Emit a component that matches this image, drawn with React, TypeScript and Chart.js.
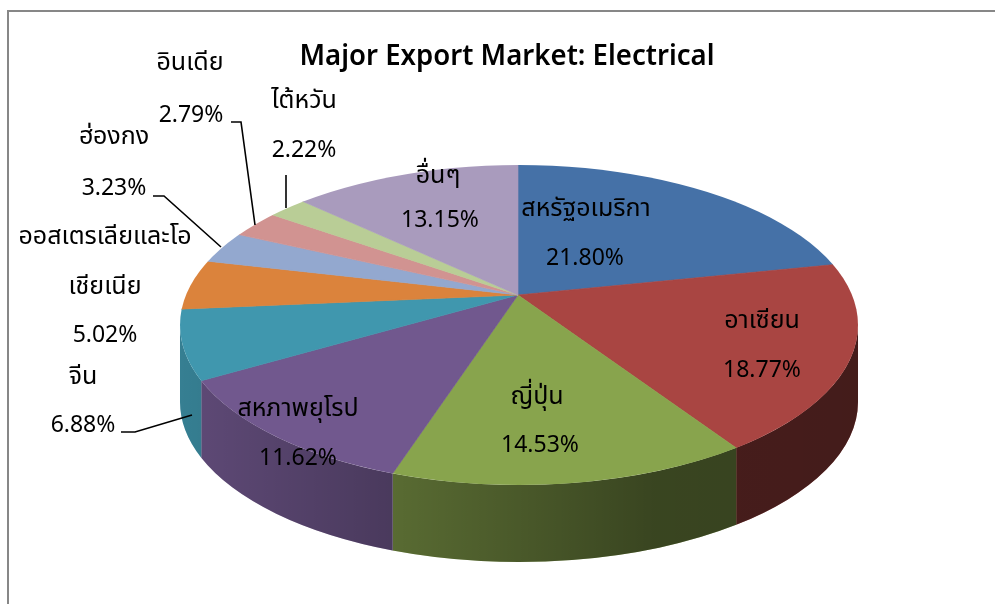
import React, { useEffect, useRef } from 'react';
import { Chart, registerables } from 'chart.js';

Chart.register(...registerables);

// ---------- data ----------
const categories = [
  'สหรัฐอเมริกา',
  'อาเซียน',
  'ญี่ปุ่น',
  'สหภาพยุโรป',
  'จีน',
  'ออสเตรเลียและโอเชียเนีย',
  'ฮ่องกง',
  'อินเดีย',
  'ไต้หวัน',
  'อื่นๆ',
];
const shares = [21.8, 18.77, 14.53, 11.62, 6.88, 5.02, 3.23, 2.79, 2.22, 13.15];
const sliceColors = [
  '#4571A7', '#A94542', '#88A44D', '#71588E', '#4097AE',
  '#DB833C', '#93A8CF', '#D19391', '#B9CD96', '#A99BBD',
];
const titleText = 'Major Export Market: Electrical';

// ---------- layout (positions / styles) ----------
const W = 995;
const H = 604;
const APEX = { x: 518, y: 295 };
const RIM = { cx: 519, cy: 325, rx: 339, ry: 160 };
const DEPTH = 77;
const K = RIM.ry / RIM.rx;
const PIE_RX = 440; // virtual pie radius before clipping to the rim ellipse

// label anchor: [nameX, nameY, pctX, pctY]
const labelPos: number[][] = [
  [586, 209, 585, 258],
  [762, 321, 762, 370],
  [537, 397, 540, 445],
  [298, 409, 298, 458],
  [83, 377, 83, 425],
  [105, 237, 105, 335],
  [114, 137, 114, 188],
  [190, 63, 191, 115],
  [304, 101, 304, 150],
  [438, 176, 440, 220],
];
const wrapAt: Record<number, number> = { 5: 15 };
const leaders: Record<number, number[][]> = {
  4: [[121, 432], [135, 432], [192, 415]],
  6: [[153, 196], [164, 196], [221, 247]],
  7: [[231, 122], [241, 122], [255, 225]],
  8: [[286, 175], [286, 208]],
};

const FONT = '"Noto Sans", "Noto Sans Thai", "Tahoma", "DejaVu Sans", sans-serif';

function rimAngle(theta: number): number {
  const dx = Math.cos(theta);
  const dy = Math.sin(theta) * K;
  const u0 = (APEX.x - RIM.cx) / RIM.rx;
  const v0 = (APEX.y - RIM.cy) / RIM.ry;
  const du = dx / RIM.rx;
  const dv = dy / RIM.ry;
  const a = du * du + dv * dv;
  const b = 2 * (u0 * du + v0 * dv);
  const c = u0 * u0 + v0 * v0 - 1;
  const t = (-b + Math.sqrt(b * b - 4 * a * c)) / (2 * a);
  let phi = Math.atan2(v0 + t * dv, u0 + t * du);
  if (phi < -Math.PI / 2 - 1e-9) phi += Math.PI * 2;
  return phi;
}

const pie3d = {
  id: 'pie3d',
  beforeDatasetsDraw(chart: any) {
    const ctx = chart.ctx as CanvasRenderingContext2D;
    const meta = chart.getDatasetMeta(0);
    const arcs = meta.data as any[];
    // side walls
    arcs.forEach((arc, i) => {
      let ps = rimAngle(arc.startAngle);
      let pe = rimAngle(arc.endAngle);
      if (i === arcs.length - 1 && pe <= ps) pe += Math.PI * 2;
      const a = Math.max(ps, 0);
      const b = Math.min(pe, Math.PI);
      if (a >= b) return;
      const path = new Path2D();
      path.ellipse(RIM.cx, RIM.cy, RIM.rx, RIM.ry, 0, a, b, false);
      path.lineTo(RIM.cx + RIM.rx * Math.cos(b), RIM.cy + DEPTH + RIM.ry * Math.sin(b));
      path.ellipse(RIM.cx, RIM.cy + DEPTH, RIM.rx, RIM.ry, 0, b, a, true);
      path.closePath();
      ctx.save();
      ctx.fillStyle = sliceColors[i];
      ctx.fill(path);
      const g = ctx.createLinearGradient(RIM.cx - RIM.rx, 0, RIM.cx + RIM.rx, 0);
      g.addColorStop(0, 'rgba(0,0,0,0.16)');
      g.addColorStop(0.5, 'rgba(0,0,0,0.46)');
      g.addColorStop(0.7, 'rgba(0,0,0,0.58)');
      g.addColorStop(1, 'rgba(0,0,0,0.6)');
      ctx.fillStyle = g;
      ctx.fill(path);
      ctx.restore();
    });
    // top face: clip to rim ellipse, squash the library's pie around the apex
    const a0 = arcs[0];
    const r = a0.outerRadius;
    ctx.save();
    ctx.beginPath();
    ctx.ellipse(RIM.cx, RIM.cy, RIM.rx, RIM.ry, 0, 0, Math.PI * 2);
    ctx.clip();
    ctx.translate(APEX.x, APEX.y);
    ctx.scale(PIE_RX / r, (PIE_RX * K) / r);
    ctx.translate(-a0.x, -a0.y);
  },
  afterDatasetsDraw(chart: any) {
    chart.ctx.restore();
  },
  afterDraw(chart: any) {
    const ctx = chart.ctx as CanvasRenderingContext2D;
    ctx.save();
    // frame
    ctx.strokeStyle = '#878787';
    ctx.lineWidth = 2;
    ctx.beginPath();
    ctx.moveTo(W, 11);
    ctx.lineTo(8, 11);
    ctx.lineTo(8, H);
    ctx.stroke();
    // title (condensed horizontally to the reference width)
    ctx.fillStyle = '#000';
    ctx.textAlign = 'center';
    ctx.textBaseline = 'middle';
    ctx.font = `600 29px ${FONT}`;
    const tw = ctx.measureText(titleText).width;
    ctx.save();
    ctx.translate(507, 57);
    ctx.scale(Math.min(1, 415 / tw), 1);
    ctx.fillText(titleText, 0, 0);
    ctx.restore();
    // labels
    categories.forEach((name, i) => {
      const p = labelPos[i];
      const pct = shares[i].toFixed(2) + '%';
      ctx.font = `25px ${FONT}`;
      if (wrapAt[i]) {
        ctx.fillText(name.slice(0, wrapAt[i]), p[0], p[1]);
        ctx.fillText(name.slice(wrapAt[i]), p[0], p[1] + 50);
      } else {
        ctx.fillText(name, p[0], p[1]);
      }
      ctx.font = `23px ${FONT}`;
      ctx.fillText(pct, p[2], p[3]);
    });
    // leader lines
    ctx.strokeStyle = '#000';
    ctx.lineWidth = 1.6;
    Object.keys(leaders).forEach((k) => {
      const pts = leaders[+k];
      ctx.beginPath();
      pts.forEach((q, j) => (j ? ctx.lineTo(q[0], q[1]) : ctx.moveTo(q[0], q[1])));
      ctx.stroke();
    });
    ctx.restore();
  },
};

export default function App() {
  const ref = useRef<HTMLCanvasElement>(null);
  useEffect(() => {
    if (!ref.current) return;
    const chart = new Chart(ref.current, {
      type: 'pie',
      data: {
        labels: categories,
        datasets: [
          {
            data: shares,
            backgroundColor: sliceColors,
            borderColor: sliceColors,
            borderWidth: 0.6,
            clip: false,
          } as any,
        ],
      },
      options: {
        animation: false,
        responsive: false,
        events: [],
        layout: { padding: 0 },
        plugins: {
          legend: { display: false },
          tooltip: { enabled: false },
          title: { display: false },
        },
      },
      plugins: [pie3d],
    });
    return () => chart.destroy();
  }, []);
  return (
    <div style={{ position: 'fixed', left: 0, top: 0, width: W, height: H, background: '#fff' }}>
      <canvas ref={ref} width={W} height={H} style={{ width: W, height: H, display: 'block' }} />
    </div>
  );
}
